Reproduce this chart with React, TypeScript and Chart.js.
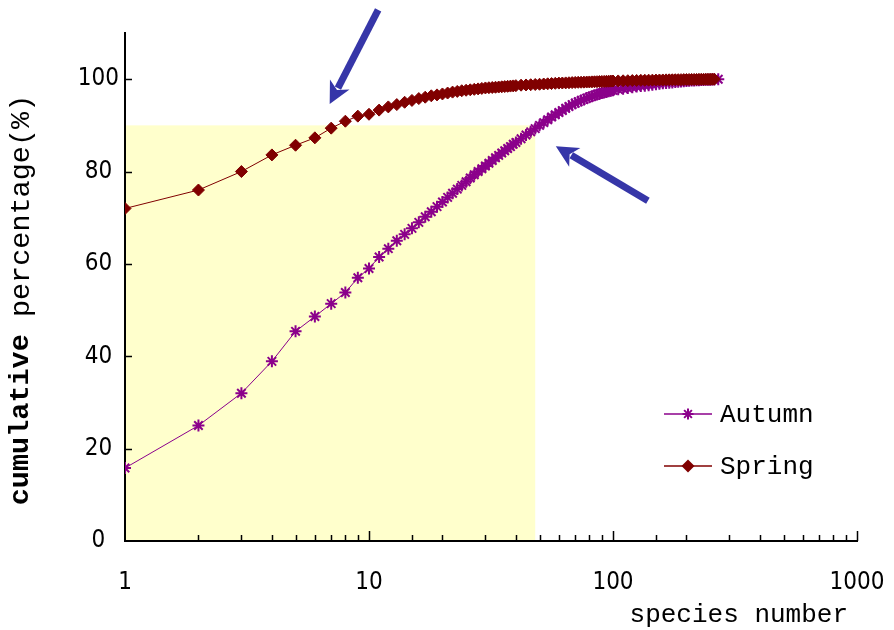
import React, { useEffect, useRef } from 'react';
import { Chart, registerables } from 'chart.js';

Chart.register(...registerables);

// ---- data ----
const ranks = [
  1, 2, 3, 4, 5, 6, 7, 8, 9, 10, 11, 12, 13, 14, 15, 16, 17, 18, 19, 20,
  21, 22, 23, 24, 25, 26, 27, 28, 29, 30, 31, 32, 33, 34, 35, 36, 37, 38, 39, 40,
  42, 44, 46, 48, 50, 52, 54, 56, 58, 60, 62, 64, 66, 68, 70, 72, 74, 76, 78, 80,
  82, 84, 86, 88, 90, 92, 94, 96, 98, 100,
  105, 110, 115, 120, 125, 130, 135, 140, 145, 150, 155, 160, 165, 170, 175, 180,
  185, 190, 195, 200, 205, 210, 215, 220, 225, 230, 235, 240, 245, 250, 255, 260,
];
const autumnRanks = [...ranks, 270];
const autumnPct = [
  15.8, 25, 32, 38.9, 45.4, 48.6, 51.4, 53.8, 57, 59, 61.5, 63.3, 65, 66.4, 67.7, 69, 70.2, 71.3, 72.4, 73.4,
  74.4, 75.3, 76.2, 77, 77.8, 78.6, 79.3, 80, 80.6, 81.2, 81.8, 82.4, 83, 83.5, 84, 84.5, 85, 85.4, 85.9, 86.3,
  87.1, 87.9, 88.6, 89.3, 90, 90.6, 91.2, 91.8, 92.3, 92.8, 93.2, 93.7, 94.1, 94.5, 94.8, 95.1, 95.4, 95.6, 95.9, 96.1,
  96.3, 96.5, 96.7, 96.8, 97, 97.1, 97.2, 97.4, 97.5, 97.6,
  97.8, 97.95, 98.1, 98.25, 98.4, 98.5, 98.6, 98.7, 98.8, 98.9, 99, 99.1, 99.15, 99.25, 99.3, 99.4,
  99.45, 99.5, 99.55, 99.6, 99.65, 99.7, 99.72, 99.75, 99.78, 99.8, 99.83, 99.85, 99.88, 99.9, 99.93, 99.95,
  100,
];
const springPct = [
  72, 76, 80, 83.6, 85.7, 87.3, 89.4, 90.9, 92, 92.4, 93.3, 94, 94.5, 95, 95.4, 95.8, 96.1, 96.4, 96.6, 96.8,
  97, 97.2, 97.35, 97.5, 97.6, 97.7, 97.8, 97.9, 98, 98.1, 98.15, 98.2, 98.25, 98.3, 98.35, 98.4, 98.45, 98.5, 98.55, 98.6,
  98.7, 98.75, 98.8, 98.85, 98.9, 98.95, 99, 99.05, 99.1, 99.15, 99.17, 99.2, 99.23, 99.26, 99.3, 99.32, 99.34, 99.36, 99.38, 99.4,
  99.42, 99.44, 99.46, 99.48, 99.5, 99.52, 99.54, 99.56, 99.58, 99.6,
  99.62, 99.65, 99.67, 99.7, 99.72, 99.75, 99.76, 99.78, 99.79, 99.8, 99.82, 99.83, 99.85, 99.86, 99.87, 99.88,
  99.89, 99.9, 99.91, 99.92, 99.93, 99.94, 99.945, 99.95, 99.96, 99.965, 99.97, 99.975, 99.98, 99.985, 99.99, 100,
];
const seriesNames = ['Autumn', 'Spring'];
const xTickLabels = [1, 10, 100, 1000];
const yTickLabels = [0, 20, 40, 60, 80, 100];
const xTitle = 'species number';
const yTitleParts = ['cumulative', ' percentage(%)'];
// highlighted region (species rank range, percentage range)
const highlightRanks = [1, 48];
const highlightPct = [0, 90];
// annotation arrows in data coordinates: [tailRank, tailPct, tipRank, tipPct]
const arrowA = [10.9, 115, 6.9, 94.6];
const arrowB = [139, 73.7, 58.3, 85.5];

// ---- styles ----
const AUTUMN = '#8B008B';
const SPRING = '#800000';
const YELLOW = '#FFFFCC';
const ARROW = '#3636A8';
const FONT = "'Liberation Mono', 'DejaVu Sans Mono', monospace";
const TICK_FONT = "'DejaVu Sans Condensed', 'Liberation Mono', monospace";

function drawArrow(ctx: CanvasRenderingContext2D, x1: number, y1: number, x2: number, y2: number) {
  const ang = Math.atan2(y2 - y1, x2 - x1);
  const head = 22;
  const hw = 11;
  const c = Math.cos(ang);
  const s = Math.sin(ang);
  const bx = x2 - head * c;
  const by = y2 - head * s;
  ctx.save();
  ctx.strokeStyle = ARROW;
  ctx.fillStyle = ARROW;
  ctx.lineWidth = 7;
  ctx.beginPath();
  ctx.moveTo(x1, y1);
  ctx.lineTo(bx + 4 * c, by + 4 * s);
  ctx.stroke();
  ctx.beginPath();
  ctx.moveTo(x2, y2);
  ctx.lineTo(bx + hw * s, by - hw * c);
  ctx.lineTo(bx + 6 * c, by + 6 * s);
  ctx.lineTo(bx - hw * s, by + hw * c);
  ctx.closePath();
  ctx.fill();
  ctx.restore();
}

function drawStar(ctx: CanvasRenderingContext2D, x: number, y: number, r: number) {
  ctx.beginPath();
  ctx.moveTo(x - r, y); ctx.lineTo(x + r, y);
  ctx.moveTo(x, y - r); ctx.lineTo(x, y + r);
  const d = r * Math.SQRT1_2;
  ctx.moveTo(x - d, y - d); ctx.lineTo(x + d, y + d);
  ctx.moveTo(x - d, y + d); ctx.lineTo(x + d, y - d);
  ctx.stroke();
}

function drawDiamond(ctx: CanvasRenderingContext2D, x: number, y: number, r: number) {
  ctx.beginPath();
  ctx.moveTo(x, y - r); ctx.lineTo(x + r, y); ctx.lineTo(x, y + r); ctx.lineTo(x - r, y);
  ctx.closePath();
  ctx.fill();
}

const highlightPlugin = {
  id: 'highlightRegion',
  beforeDraw(chart: any) {
    const { ctx, scales } = chart;
    const x = scales.x;
    const y = scales.y;
    const x0 = x.getPixelForValue(highlightRanks[0]);
    const x1 = x.getPixelForValue(highlightRanks[1]);
    const y0 = y.getPixelForValue(highlightPct[0]);
    const y1 = y.getPixelForValue(highlightPct[1]);
    ctx.save();
    ctx.fillStyle = YELLOW;
    ctx.fillRect(x0, y1, x1 - x0, y0 - y1);
    ctx.restore();
  },
};

const decorPlugin = {
  id: 'decor',
  afterDraw(chart: any) {
    const { ctx, chartArea, scales } = chart;
    const x = scales.x;
    const y = scales.y;
    // inward tick marks
    ctx.save();
    ctx.strokeStyle = '#000';
    ctx.lineWidth = 1.5;
    ctx.beginPath();
    x.ticks.forEach((t: any) => {
      if (t.value <= 1) return;
      const lg = Math.log10(t.value);
      const major = Math.abs(lg - Math.round(lg)) < 1e-9;
      const px = Math.round(x.getPixelForValue(t.value)) + 0.5;
      ctx.moveTo(px, chartArea.bottom);
      ctx.lineTo(px, chartArea.bottom - (major ? 10 : 6));
    });
    yTickLabels.forEach((v) => {
      if (v === 0) return;
      const py = Math.round(y.getPixelForValue(v)) + 0.5;
      ctx.moveTo(chartArea.left, py);
      ctx.lineTo(chartArea.left + 7, py);
    });
    ctx.stroke();
    ctx.restore();

    // arrows
    drawArrow(ctx, x.getPixelForValue(arrowA[0]), y.getPixelForValue(arrowA[1]), x.getPixelForValue(arrowA[2]), y.getPixelForValue(arrowA[3]));
    drawArrow(ctx, x.getPixelForValue(arrowB[0]), y.getPixelForValue(arrowB[1]), x.getPixelForValue(arrowB[2]), y.getPixelForValue(arrowB[3]));

    // x axis title, bottom right
    ctx.save();
    ctx.font = `26px ${FONT}`;
    ctx.fillStyle = '#000';
    ctx.textAlign = 'right';
    ctx.textBaseline = 'middle';
    ctx.fillText(xTitle, chartArea.right - 9, chartArea.bottom + 74);
    ctx.restore();

    // y axis title (rotated), first word bold
    ctx.save();
    ctx.translate(21, (chartArea.top + chartArea.bottom) / 2 + 13);
    ctx.rotate(-Math.PI / 2);
    ctx.fillStyle = '#000';
    ctx.textBaseline = 'middle';
    ctx.textAlign = 'left';
    const boldFont = `bold 28.5px ${FONT}`;
    const normFont = `28.5px ${FONT}`;
    ctx.font = boldFont;
    const w0 = ctx.measureText(yTitleParts[0]).width;
    ctx.font = normFont;
    const w1 = ctx.measureText(yTitleParts[1]).width;
    const start = -(w0 + w1) / 2;
    ctx.font = boldFont;
    ctx.fillText(yTitleParts[0], start, 0);
    ctx.font = normFont;
    ctx.fillText(yTitleParts[1], start + w0, 0);
    ctx.restore();

    // legend inside plot
    const lx = chartArea.right - 193;
    const rows = [chartArea.bottom - 127, chartArea.bottom - 75];
    ctx.save();
    ctx.font = `26px ${FONT}`;
    ctx.textBaseline = 'middle';
    ctx.textAlign = 'left';
    rows.forEach((ry, i) => {
      const col = i === 0 ? AUTUMN : SPRING;
      ctx.strokeStyle = col;
      ctx.fillStyle = col;
      ctx.lineWidth = 1.5;
      ctx.beginPath();
      ctx.moveTo(lx, ry);
      ctx.lineTo(lx + 48, ry);
      ctx.stroke();
      if (i === 0) {
        ctx.lineWidth = 2;
        drawStar(ctx, lx + 24, ry, 5.5);
      } else {
        drawDiamond(ctx, lx + 24, ry, 6.5);
      }
      ctx.fillStyle = '#000';
      ctx.fillText(seriesNames[i], lx + 56, ry + 1);
    });
    ctx.restore();
  },
};

export default function App() {
  const canvasRef = useRef<HTMLCanvasElement | null>(null);

  useEffect(() => {
    if (!canvasRef.current) return;
    Chart.defaults.font.family = FONT;
    Chart.defaults.color = '#000';
    const chart = new Chart(canvasRef.current, {
      type: 'line',
      data: {
        datasets: [
          {
            label: seriesNames[0],
            data: autumnRanks.map((r, i) => ({ x: r, y: autumnPct[i] })),
            borderColor: AUTUMN,
            backgroundColor: AUTUMN,
            borderWidth: 1,
            pointStyle: 'star',
            pointRadius: 6,
            pointBorderWidth: 2,
            pointBorderColor: AUTUMN,
            pointBackgroundColor: AUTUMN,
            order: 1,
          },
          {
            label: seriesNames[1],
            data: ranks.map((r, i) => ({ x: r, y: springPct[i] })),
            borderColor: SPRING,
            backgroundColor: SPRING,
            borderWidth: 1,
            pointStyle: 'rectRot',
            pointRadius: 6,
            pointBorderWidth: 1,
            pointBorderColor: SPRING,
            pointBackgroundColor: SPRING,
            order: 0,
          },
        ],
      },
      options: {
        animation: false,
        responsive: true,
        maintainAspectRatio: false,
        layout: { padding: { left: 0, right: 37, top: 33, bottom: 0 } },
        plugins: {
          legend: { display: false },
          tooltip: { enabled: false },
        },
        scales: {
          x: {
            type: 'logarithmic',
            min: 1,
            max: 1000,
            grid: { display: false },
            border: { display: true, color: '#000', width: 2 },
            afterFit: (scale: any) => {
              scale.height = 89;
              scale.paddingLeft = 0;
              scale.paddingRight = 0;
            },
            ticks: {
              autoSkip: false,
              maxRotation: 0,
              minRotation: 0,
              padding: 19,
              font: { size: 24, family: TICK_FONT },
              color: '#000',
              callback: (v: any) => (xTickLabels.includes(Number(v)) ? String(v) : ''),
            },
          },
          y: {
            type: 'linear',
            min: 0,
            max: 110,
            grid: { display: false },
            border: { display: true, color: '#000', width: 2 },
            afterFit: (scale: any) => {
              scale.width = 125;
              scale.paddingTop = 0;
              scale.paddingBottom = 0;
            },
            ticks: {
              stepSize: 20,
              includeBounds: false,
              crossAlign: 'center',
              padding: -2,
              font: { size: 24, family: TICK_FONT },
              color: '#000',
              callback: (v: any) => (yTickLabels.includes(Number(v)) ? String(v) : ''),
            },
          },
        },
      },
      plugins: [highlightPlugin, decorPlugin],
    } as any);
    return () => chart.destroy();
  }, []);

  return (
    <div style={{ position: 'absolute', left: 0, top: 0, width: 894, height: 630, background: '#fff' }}>
      <canvas ref={canvasRef} />
    </div>
  );
}
